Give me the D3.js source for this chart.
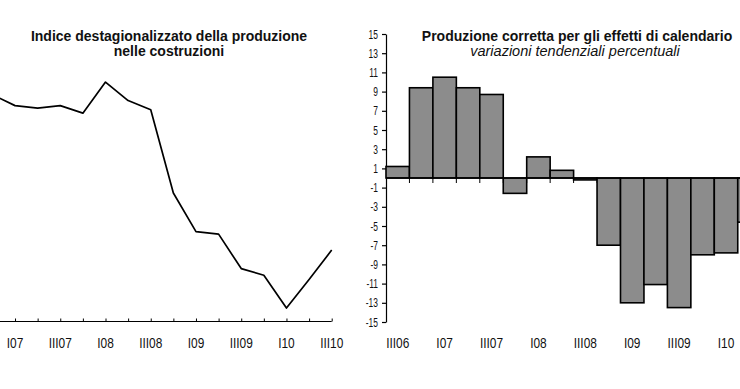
<!DOCTYPE html>
<html><head><meta charset="utf-8">
<script src="https://cdn.jsdelivr.net/npm/d3@7"></script>
<style>body{margin:0;background:#fff;overflow:hidden}</style></head>
<body><svg id="c" width="740" height="389"></svg>
<script>
// Left chart: seasonally adjusted construction production index
const lineCats = ["IV06","I07","II07","III07","IV07","I08","II08","III08","IV08","I09","II09","III09","IV09","I10","II10","III10"];
const lineValues = [107.0,105.7,105.4,105.7,104.8,108.5,106.3,105.2,95.3,90.7,90.4,86.3,85.5,81.6,85.0,88.5];
const lineTickLabels = ["I07","III07","I08","III08","I09","III09","I10","III10"];
// Right chart: calendar adjusted, year-on-year % change
const barCats = ["III06","IV06","I07","II07","III07","IV07","I08","II08","III08","IV08","I09","II09","III09","IV09","I10","II10"];
const barValues = [1.2,9.4,10.5,9.4,8.7,-1.6,2.2,0.8,-0.2,-7.0,-13.0,-11.1,-13.5,-8.0,-7.8,-4.6];
const barTickLabels = ["III06","I07","III07","I08","III08","I09","III09","I10"];
const yTicks = d3.range(-15, 16, 2);

const svg = d3.select("#c");
const FONT = "'Liberation Sans', Arial, sans-serif";
const txtCol = "#111";

function label(g, x, y, s, size, sx, anchor) {
  g.append("text")
    .attr("transform", `translate(${x},${y}) scale(${sx},1)`)
    .attr("text-anchor", anchor)
    .attr("font-family", FONT)
    .attr("font-size", size)
    .attr("fill", txtCol)
    .text(s);
}

// ---------- Left chart ----------
const L = svg.append("g");
const xL = d3.scalePoint().domain(lineCats).range([-7.6, 331.7]);
const yL = d3.scaleLinear().domain([80, 110]).range([321.5, 69.5]);
const axisY = 321.5;

L.append("g").attr("transform", `translate(0,${axisY})`)
  .call(d3.axisBottom(xL).tickSize(-3).tickSizeOuter(0).tickFormat(""))
  .call(g => g.select(".domain").remove())
  .call(g => g.selectAll("line").attr("stroke", "#000").attr("stroke-width", 1));
L.append("line").attr("x1", 0).attr("x2", xL("III10")).attr("y1", axisY).attr("y2", axisY)
  .attr("stroke", "#000").attr("stroke-width", 1);

L.append("path").datum(lineValues)
  .attr("fill", "none").attr("stroke", "#000").attr("stroke-width", 1.7)
  .attr("stroke-linejoin", "round")
  .attr("d", d3.line().x((d, i) => xL(lineCats[i])).y(d => yL(d)));

lineTickLabels.forEach(c => label(L, xL(c), 348, c, 14, 0.85, "middle"));

L.append("text").attr("x", 169).attr("y", 41).attr("text-anchor", "middle")
  .attr("font-family", FONT).attr("font-size", 14).attr("font-weight", "bold").attr("fill", txtCol)
  .text("Indice destagionalizzato della produzione");
L.append("text").attr("x", 169).attr("y", 56).attr("text-anchor", "middle")
  .attr("font-family", FONT).attr("font-size", 14).attr("font-weight", "bold").attr("fill", txtCol)
  .text("nelle costruzioni");

// ---------- Right chart ----------
const R = svg.append("g");
const x0 = 386, bw = 23.45;
const xR = d3.scaleBand().domain(barCats).range([x0, x0 + bw * barCats.length]).padding(0);
const yR = d3.scaleLinear().domain([-15, 15]).range([322, 34]);

R.append("g").attr("transform", `translate(${x0},0)`)
  .call(d3.axisLeft(yR).tickValues(yTicks).tickSize(4).tickSizeOuter(0).tickFormat(""))
  .call(g => g.selectAll("line, path").attr("stroke", "#000").attr("stroke-width", 1.2));

yTicks.forEach(v => label(R, 378, yR(v) + 4.5, String(v), 13, 0.65, "end"));

// small category ticks below zero line
R.selectAll(".ct").data(barCats.slice(1)).join("line")
  .attr("x1", d => xR(d)).attr("x2", d => xR(d))
  .attr("y1", yR(0)).attr("y2", yR(0) + 5)
  .attr("stroke", "#000").attr("stroke-width", 1);

R.selectAll(".bar").data(barValues).join("rect")
  .attr("x", (d, i) => xR(barCats[i]))
  .attr("width", xR.bandwidth())
  .attr("y", d => Math.min(yR(d), yR(0)))
  .attr("height", d => Math.abs(yR(d) - yR(0)))
  .attr("fill", "#8c8c8c").attr("stroke", "#000").attr("stroke-width", 1.6);

R.append("line").attr("x1", x0).attr("x2", 770).attr("y1", yR(0)).attr("y2", yR(0))
  .attr("stroke", "#000").attr("stroke-width", 1.5);

barTickLabels.forEach(c => label(R, xR(c) + xR.bandwidth() / 2, 348, c, 14, 0.85, "middle"));

R.append("text").attr("x", 577).attr("y", 41).attr("text-anchor", "middle")
  .attr("font-family", FONT).attr("font-size", 14).attr("font-weight", "bold").attr("fill", txtCol)
  .text("Produzione corretta per gli effetti di calendario");
R.append("text").attr("x", 575).attr("y", 56).attr("text-anchor", "middle")
  .attr("font-family", FONT).attr("font-size", 14.5).attr("font-style", "italic").attr("fill", txtCol)
  .text("variazioni tendenziali percentuali");
</script></body></html>
